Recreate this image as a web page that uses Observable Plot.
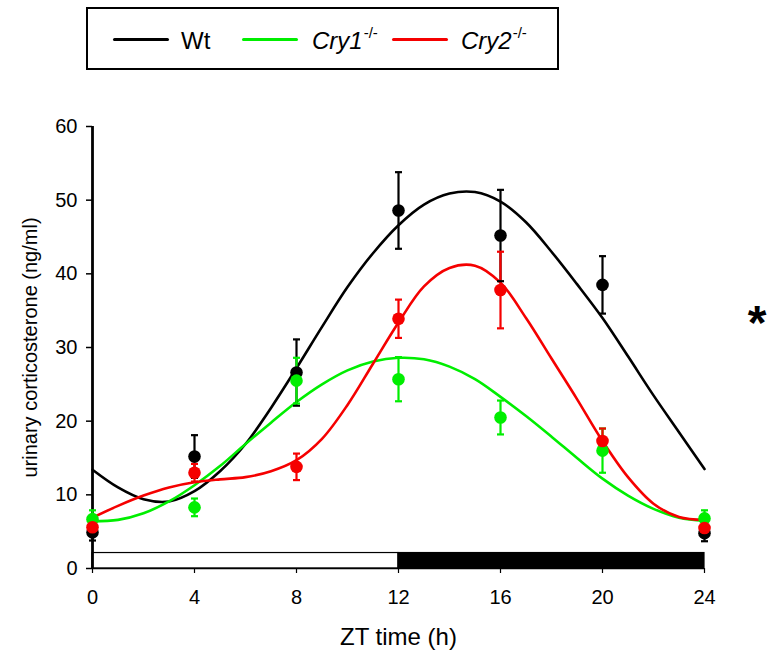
<!DOCTYPE html>
<html>
<head>
<meta charset="utf-8">
<script src="https://cdn.jsdelivr.net/npm/d3@7"></script>
<script src="https://cdn.jsdelivr.net/npm/@observablehq/plot@0.6"></script>
<style>
  body { margin: 0; background: #fff; }
  #wrap { position: relative; width: 774px; height: 664px; font-family: "Liberation Sans", Arial, sans-serif; }
  #legend { position: absolute; left: 86px; top: 7px; width: 469px; height: 59px; border: 2px solid #000; background: #fff; }
  .lg-line { position: absolute; top: 28.5px; width: 56px; height: 3px; border-radius: 1.5px; }
  .lg-text { position: absolute; top: 20px; font-size: 24px; line-height: 24px; white-space: nowrap; color: #000; }
  .lg-text sup { font-size: 15px; vertical-align: 0; position: relative; top: -11px; margin-left: 1px; }
  #star { position: absolute; left: 733px; top: 299px; width: 48px; text-align: center; font-size: 48px; line-height: 48px; font-weight: bold; }
</style>
</head>
<body>
<div id="wrap">
  <div id="legend"></div>
  <div id="star">*</div>
</div>
<script>
// ---- data ----
const zt = [0, 4, 8, 12, 16, 20, 24];
const wtMean   = [4.9, 15.2, 26.6, 48.6, 45.2, 38.5, 4.8];
const wtSE     = [1.1, 2.9, 4.5, 5.2, 6.2, 3.9, 1.1];
const cry1Mean = [6.7, 8.3, 25.5, 25.7, 20.5, 16.0, 6.8];
const cry1SE   = [1.2, 1.2, 3.1, 3.0, 2.3, 3.0, 1.1];
const cry2Mean = [5.6, 13.0, 13.8, 33.9, 37.8, 17.3, 5.5];
const cry2SE   = [1.0, 1.2, 1.8, 2.6, 5.2, 1.7, 1.0];

// fitted curves at each hour
const fitZT   = [0, 1, 2, 3, 4, 5, 6, 7, 8, 9, 10, 11, 12, 13, 14, 15, 16, 17, 18, 19, 20, 21, 22, 23, 24];
const wtFit   = [13.4, 11.0, 9.4, 9.1, 10.5, 13.2, 16.9, 21.8, 27.2, 32.8, 38.2, 42.8, 46.6, 49.4, 50.9, 51.1, 49.8, 47.0, 43.0, 38.6, 34.0, 28.8, 23.5, 18.5, 13.5];
const cry1Fit = [6.4, 6.6, 7.5, 9.1, 11.3, 13.9, 16.9, 19.8, 22.6, 25.0, 26.9, 28.1, 28.6, 28.4, 27.4, 25.7, 23.3, 20.7, 17.9, 15.0, 12.2, 9.9, 8.1, 6.9, 6.5];
const cry2Fit = [6.9, 8.5, 9.9, 11.0, 11.7, 12.1, 12.4, 13.2, 14.7, 17.6, 22.2, 27.8, 33.4, 38.3, 40.8, 41.1, 38.8, 34.0, 28.5, 23.0, 17.3, 12.4, 8.8, 7.0, 6.6];

const seriesKeys  = ["Wt", "Cry1", "Cry2"];
const seriesSup   = ["", "-/-", "-/-"];
const seriesColor = ["#000000", "#00ee00", "#f50000"];

const xTicks = [0, 4, 8, 12, 16, 20, 24];
const yTicks = [0, 10, 20, 30, 40, 50, 60];

const phaseNames = ["light", "dark"];
const phaseStart = [0, 12];
const phaseEnd   = [12, 24];

// ---- tables ----
const seriesData = [
  {key: "Wt", mean: wtMean, se: wtSE, fit: wtFit},
  {key: "Cry1", mean: cry1Mean, se: cry1SE, fit: cry1Fit},
  {key: "Cry2", mean: cry2Mean, se: cry2SE, fit: cry2Fit}
];
const points = seriesData.flatMap(s => zt.map((t, i) => ({zt: t, mean: s.mean[i], se: s.se[i], series: s.key})));
const fits = seriesData.flatMap(s => fitZT.map((t, i) => ({zt: t, value: s.fit[i], series: s.key})));
const phases = phaseNames.map((n, i) => ({name: n, start: phaseStart[i], end: phaseEnd[i]}));

const capSymbol = {
  draw(context, size) {
    const w = Math.sqrt(size / Math.PI);
    context.moveTo(-w, 0);
    context.lineTo(w, 0);
  }
};

const BAR_TOP = 2.1;

const chart = Plot.plot({
  width: 774,
  height: 664,
  marginTop: 126,
  marginBottom: 96,
  marginLeft: 92,
  marginRight: 70,
  style: {fontFamily: "'Liberation Sans', Arial, sans-serif", background: "transparent", overflow: "visible"},
  x: {domain: [0, 24]},
  y: {domain: [0, 60]},
  color: {domain: seriesKeys, range: seriesColor},
  marks: [
    Plot.rectY(phases, {filter: d => d.name === "light", x1: "start", x2: "end", y1: 0, y2: BAR_TOP, fill: "white", stroke: "black", strokeWidth: 1.2}),
    Plot.rectY(phases, {filter: d => d.name === "dark", x1: "start", x2: "end", y1: 0, y2: BAR_TOP, fill: "black", stroke: "black", strokeWidth: 1.2}),
    Plot.ruleY([0], {stroke: "black", strokeWidth: 1.5}),
    Plot.axisX(xTicks, {tickSize: 5, tickPadding: 16, fontSize: 20, label: null, stroke: "black", strokeWidth: 1.2}),
    Plot.axisY(yTicks, {tickSize: 6, tickPadding: 9, fontSize: 20, label: null, stroke: "black", strokeWidth: 1.5}),
    Plot.ruleX([0], {stroke: "black", strokeWidth: 2.8}),
    Plot.line(fits, {x: "zt", y: "value", z: "series", stroke: "series", strokeWidth: 2.6, curve: "catmull-rom"}),
    Plot.ruleX(points, {x: "zt", y1: d => d.mean - d.se, y2: d => d.mean + d.se, stroke: "series", strokeWidth: 2.2}),
    Plot.dot(points, {x: "zt", y: d => d.mean + d.se, symbol: capSymbol, r: 3.5, fill: "none", stroke: "series", strokeWidth: 2.2}),
    Plot.dot(points, {x: "zt", y: d => d.mean - d.se, symbol: capSymbol, r: 3.5, fill: "none", stroke: "series", strokeWidth: 2.2}),
    Plot.dot(points, {x: "zt", y: "mean", fill: "series", r: 6.3}),
    Plot.text(["ZT time (h)"], {frameAnchor: "bottom", dy: 76, fontSize: 24, fill: "black"}),
    Plot.text(["urinary corticosterone (ng/ml)"], {frameAnchor: "left", textAnchor: "middle", dx: -62, rotate: -90, fontSize: 20, fill: "black"})
  ]
});
document.getElementById("wrap").prepend(chart);
chart.style.position = "absolute";
chart.style.left = "0px";
chart.style.top = "0px";

// ---- legend ----
const lgLineLeft = [25, 154, 304];
const lgTextLeft = [93, 224, 373];
const legend = document.getElementById("legend");
seriesKeys.forEach((k, i) => {
  const line = document.createElement("div");
  line.className = "lg-line";
  line.style.left = lgLineLeft[i] + "px";
  line.style.background = seriesColor[i];
  legend.appendChild(line);
  const t = document.createElement("div");
  t.className = "lg-text";
  t.style.left = lgTextLeft[i] + "px";
  if (seriesSup[i]) {
    t.innerHTML = "<i>" + k + "</i><sup>" + seriesSup[i] + "</sup>";
  } else {
    t.textContent = k;
  }
  legend.appendChild(t);
});
</script>
</body>
</html>
